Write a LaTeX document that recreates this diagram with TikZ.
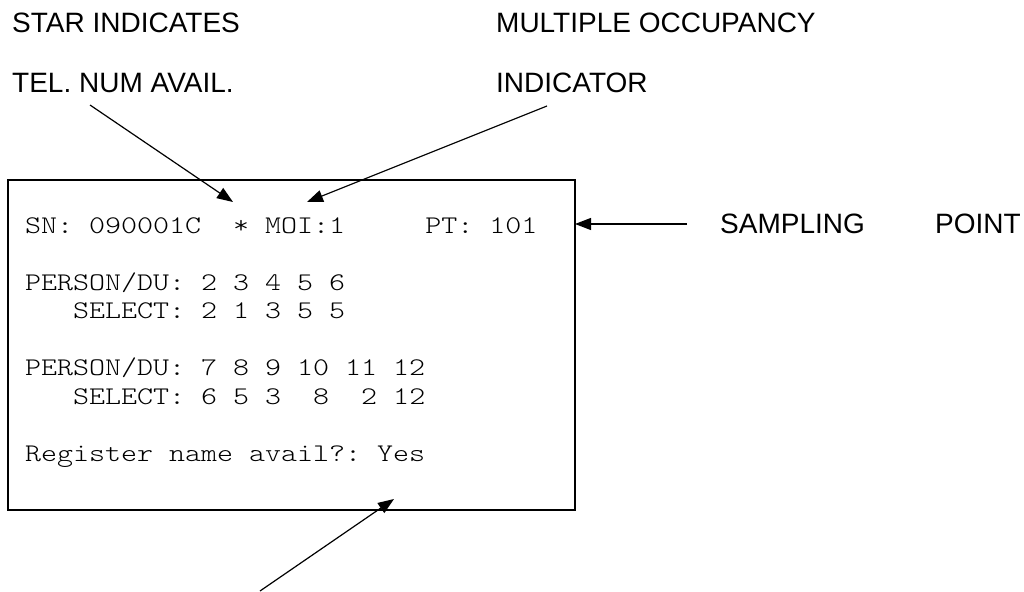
\documentclass[tikz,border=0pt]{standalone}
\usepackage{fontspec}
\setmainfont{Liberation Sans}
\newfontfamily\boxfont[FakeStretch=1.2]{Latin Modern Mono Light}
\usetikzlibrary{arrows.meta}
\tikzset{
  lbl/.style={anchor=base west, inner sep=0pt, font=\fontsize{28}{32}\selectfont},
  mono/.style={anchor=base west, inner sep=0pt, font=\boxfont\fontsize{25.4}{28}\selectfont},
  arr/.style={-{Triangle[length=16pt,width=12pt]}, line width=1.2pt},
  frame/.style={draw, line width=1.6pt}
}
\begin{document}
\begin{tikzpicture}[x=1pt,y=-1pt]
\useasboundingbox (0,0) rectangle (1024,591);
% header labels
\node[lbl] (star) at (12,33) {STAR INDICATES};
\node[lbl] (tel) at (12,93) {TEL. NUM AVAIL.};
\node[lbl] (mult) at (496,33) {MULTIPLE OCCUPANCY};
\node[lbl] (ind) at (496,93) {INDICATOR};
\node[lbl] (samp) at (720,233) {SAMPLING};
\node[lbl] (point) at (935,233) {POINT};
% screen box
\draw[frame] (8,180) rectangle (575,510);
\coordinate (boxR) at (575,224);
% screen text
\node[mono] (l1) at (25,233) {SN:~090001C~~*~MOI:1~~~~~PT:~101};
\node[mono] (l2) at (25,290) {PERSON/DU:~2~3~4~5~6};
\node[mono] (l3) at (25,318.5) {~~~SELECT:~2~1~3~5~5};
\node[mono] (l4) at (25,375.5) {PERSON/DU:~7~8~9~10~11~12};
\node[mono] (l5) at (25,404) {~~~SELECT:~6~5~3~~8~~2~12};
\node[mono] (l6) at (25,461) {Register~name~avail?:~Yes};
% arrow endpoints
\coordinate (t1) at (90,105);
\coordinate (h1) at (233,202);
\coordinate (t2) at (547,106);
\coordinate (h2) at (307,202);
\coordinate (t3) at (260,591);
\coordinate (h3) at (394,499);
\coordinate (t4) at (687,224);
% arrows
\draw[arr] (t1) -- (h1);
\draw[arr] (t2) -- (h2);
\draw[arr] (t3) -- (h3);
\draw[arr] (t4) -- (boxR);
\end{tikzpicture}
\end{document}
